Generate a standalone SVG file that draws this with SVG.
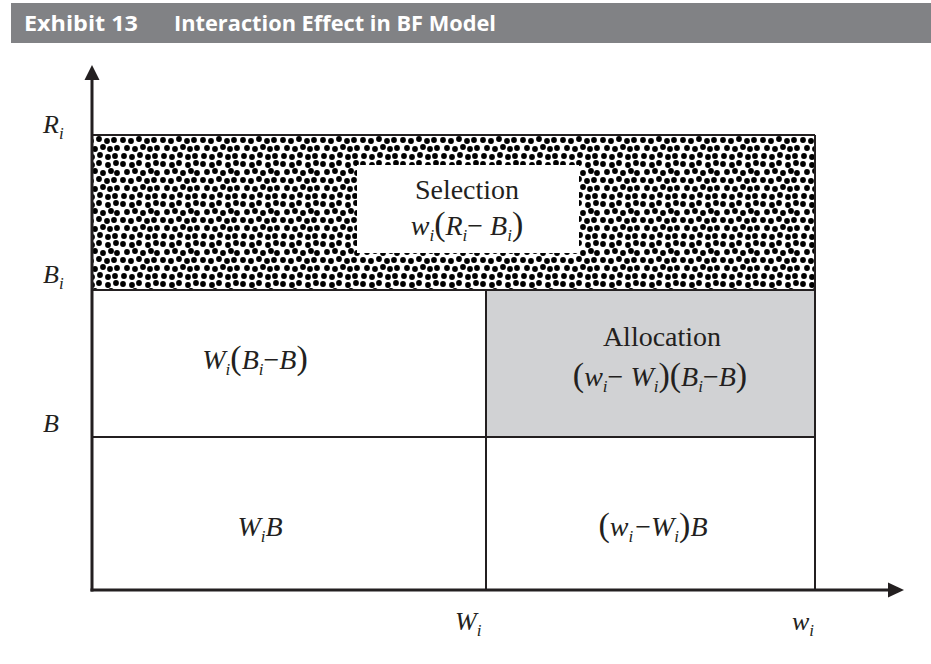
<svg xmlns="http://www.w3.org/2000/svg" width="931" height="664" viewBox="0 0 931 664">
<style>
.hd{font-family:"Open Sans","Noto Sans",sans-serif;font-weight:bold;font-size:22px;fill:#ffffff}
.m{font-family:"Liberation Serif",serif;font-style:italic;font-size:28px;fill:#231f20}
.a{font-size:26px}
.s{font-size:17px}
.p{font-style:normal;font-size:34px}
.r{font-style:normal}
.ax{stroke:#231f20;stroke-width:3;fill:none}
.ln{stroke:#231f20;stroke-width:2;fill:none}
</style>
<defs>
<pattern id="dots" x="0" y="0" width="40" height="40" patternUnits="userSpaceOnUse">
<g fill="#000">
<circle cx="3" cy="4" r="2.9"/><circle cx="12" cy="5" r="2.9"/><circle cx="19" cy="3" r="2.9"/><circle cx="28" cy="5" r="2.9"/><circle cx="36" cy="3" r="2.9"/>
<circle cx="7" cy="12" r="2.9"/><circle cx="15" cy="11" r="2.9"/><circle cx="23" cy="13" r="2.9"/><circle cx="31" cy="11" r="2.9"/><circle cx="37" cy="13" r="2.9"/>
<circle cx="3" cy="20" r="2.9"/><circle cx="11" cy="21" r="2.9"/><circle cx="19" cy="19" r="2.9"/><circle cx="27" cy="21" r="2.9"/><circle cx="34" cy="20" r="2.9"/>
<circle cx="7" cy="28" r="2.9"/><circle cx="15" cy="29" r="2.9"/><circle cx="23" cy="27" r="2.9"/><circle cx="30" cy="29" r="2.9"/><circle cx="37" cy="28" r="2.9"/>
<circle cx="4" cy="36" r="2.9"/><circle cx="12" cy="37" r="2.9"/><circle cx="20" cy="35" r="2.9"/><circle cx="28" cy="37" r="2.9"/><circle cx="35" cy="36" r="2.9"/>
</g>
</pattern>
</defs>
<rect width="931" height="664" fill="#ffffff"/>
<g id="header">
<rect x="11" y="3" width="920" height="40" fill="#818285"/>
<text class="hd" x="24" y="31" textLength="114" lengthAdjust="spacingAndGlyphs">Exhibit 13</text>
<text class="hd" x="174" y="31" textLength="322" lengthAdjust="spacingAndGlyphs">Interaction Effect in BF Model</text>
</g>
<g id="selection">
<rect x="92" y="135" width="723" height="155" fill="url(#dots)"/>
<rect x="357" y="165" width="222" height="88" fill="#ffffff"/>
<text class="m" x="467" y="199" text-anchor="middle"><tspan class="r">Selection</tspan></text>
<text class="m" x="467" y="235" text-anchor="middle">w<tspan class="s" dy="6">i</tspan><tspan class="p" dy="-6">(</tspan>R<tspan class="s" dy="6">i</tspan><tspan class="r" dy="-6">− </tspan>B<tspan class="s" dy="6">i</tspan><tspan class="p" dy="-6">)</tspan></text>
</g>
<g id="allocation">
<rect x="486" y="290" width="329" height="147" fill="#d1d2d4"/>
<text class="m" x="662" y="346" text-anchor="middle"><tspan class="r">Allocation</tspan></text>
<text class="m" x="660" y="386" text-anchor="middle"><tspan class="p">(</tspan>w<tspan class="s" dy="6">i</tspan><tspan class="r" dy="-6">− </tspan>W<tspan class="s" dy="6">i</tspan><tspan class="p" dy="-6">)(</tspan>B<tspan class="s" dy="6">i</tspan><tspan class="r" dy="-6">−</tspan>B<tspan class="p">)</tspan></text>
</g>
<g id="cell-upper-left">
<text class="m" x="255" y="369" text-anchor="middle">W<tspan class="s" dy="6">i</tspan><tspan class="p" dy="-6">(</tspan>B<tspan class="s" dy="6">i</tspan><tspan class="r" dy="-6">−</tspan>B<tspan class="p">)</tspan></text>
</g>
<g id="cell-lower-left">
<text class="m" x="260" y="536" text-anchor="middle">W<tspan class="s" dy="6">i</tspan><tspan dy="-6">B</tspan></text>
</g>
<g id="cell-lower-right">
<text class="m" x="653" y="536" text-anchor="middle"><tspan class="p">(</tspan>w<tspan class="s" dy="6">i</tspan><tspan class="r" dy="-6" dx="2">−</tspan>W<tspan class="s" dy="6">i</tspan><tspan class="p" dy="-6">)</tspan>B</text>
</g>
<g id="connectors">
<line class="ln" x1="92" y1="135" x2="815" y2="135"/>
<line class="ln" x1="92" y1="290" x2="815" y2="290"/>
<line class="ln" x1="92" y1="437" x2="815" y2="437"/>
<line class="ln" x1="486" y1="290" x2="486" y2="590"/>
<line class="ln" x1="815" y1="135" x2="815" y2="590"/>
<line class="ax" x1="92" y1="78" x2="92" y2="591.5"/>
<line class="ax" x1="90.5" y1="590" x2="890" y2="590"/>
<polygon points="92,65 84.5,80 99.5,80" fill="#231f20"/>
<polygon points="904,590 888,582.5 888,597.5" fill="#231f20"/>
</g>
<g id="axis-labels">
<text class="m a" x="43" y="133">R<tspan class="s" dy="6">i</tspan></text>
<text class="m a" x="43" y="283">B<tspan class="s" dy="6">i</tspan></text>
<text class="m a" x="43" y="432">B</text>
<text class="m a" x="455" y="630">W<tspan class="s" dy="6">i</tspan></text>
<text class="m a" x="792" y="630">w<tspan class="s" dy="6">i</tspan></text>
</g>
</svg>
